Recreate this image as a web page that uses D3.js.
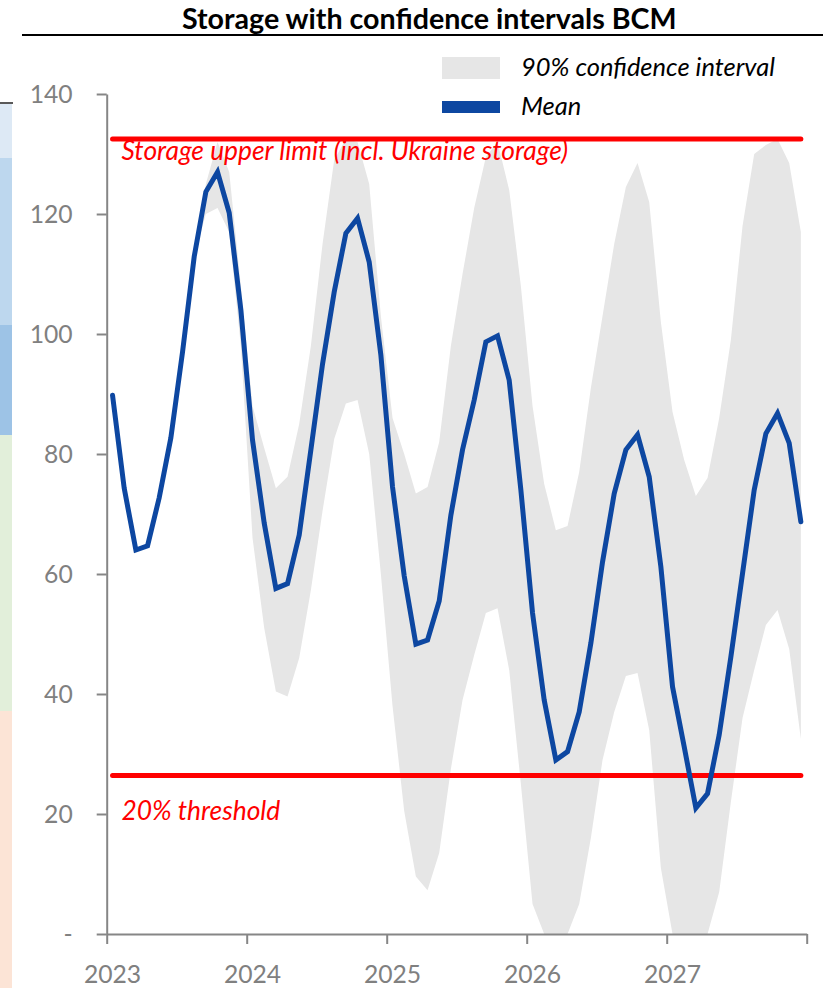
<!DOCTYPE html>
<html>
<head>
<meta charset="utf-8">
<script src="https://cdn.jsdelivr.net/npm/d3@7"></script>
<style>
  html, body { margin: 0; padding: 0; background: #fff; }
  svg { display: block; font-family: Lato, "Open Sans", sans-serif; }
</style>
</head>
<body>
<svg id="chart" width="823" height="988"></svg>
<script>
// ---------------- DATA ----------------
const titleText = "Storage with confidence intervals BCM";
const years = [2023, 2024, 2025, 2026, 2027];
const yTickValues = [0, 20, 40, 60, 80, 100, 120, 140];
const yTickLabels = ["-", "20", "40", "60", "80", "100", "120", "140"];

// monthly mean storage (BCM), Jan 2023 .. Dec 2027
const meanValues = [
  89.8, 74.3, 64, 64.7, 72.7, 82.7, 97, 112.9, 123.7, 127, 120.2, 104,
  82.3, 68.5, 57.6, 58.4, 66.5, 80.7, 95, 107, 116.8, 119.3, 112, 96.5,
  74.5, 59.7, 48.3, 49, 55.5, 69.8, 80.7, 89, 98.7, 99.7, 92.3, 74,
  53.5, 39, 29, 30.4, 37, 48.5, 62, 73.4, 80.7, 83.2, 76.2, 61.2,
  41.2, 31.2, 21, 23.4, 33.2, 46.2, 60.1, 74, 83.4, 86.8, 81.8, 68.7
];
// 90% confidence interval, upper bound
const upperValues = [
  89.8, 74.3, 64, 64.7, 72.7, 82.7, 97, 112.9, 125, 132, 127, 108,
  88, 81, 74.3, 76.2, 85, 98, 115, 129, 132.5, 132, 125, 103,
  86, 80, 73.4, 74.5, 82, 98, 110, 121, 129.5, 132, 124, 108,
  88, 75, 67.3, 68, 77, 91, 103, 115, 124.5, 128.5, 122, 102,
  87, 79, 73, 76, 86, 99, 118, 130, 131.5, 132.5, 128.5, 117
];
// 90% confidence interval, lower bound
const lowerValues = [
  89.8, 74.3, 64, 64.7, 72.7, 82.7, 97, 112.9, 120, 121, 117, 98,
  66, 51, 40.4, 39.6, 46, 57.3, 70.5, 82.5, 88.4, 89, 80, 60,
  38, 20.5, 9.6, 7.3, 13.5, 27.5, 39, 46.5, 53.5, 54.3, 44, 25,
  5, 0, 0, 0, 5, 16, 29, 37, 43, 43.5, 34, 11,
  0, 0, 0, 0, 7, 22, 36, 44, 51.5, 54, 47.5, 32.5
];
const upperLimitValue = 132.5;
const thresholdValue = 26.4;
const upperLimitLabel = "Storage upper limit (incl. Ukraine storage)";
const thresholdLabel = "20% threshold";
const legendLabels = ["90% confidence interval", "Mean"];

// ---------------- LAYOUT ----------------
const svg = d3.select("#chart");
const L = { left: 106.7, right: 806.7, top: 94, bottom: 934 };
const nMonths = meanValues.length;

const x = d3.scaleLinear().domain([0, nMonths]).range([L.left, L.right]);
const y = d3.scaleLinear().domain([0, 140]).range([L.bottom, L.top]);

const colors = {
  band: "#e6e6e6", mean: "#0d47a1", red: "#ff0000",
  axis: "#868686", tickText: "#808080"
};

function fit(sel, target) {
  const node = sel.node();
  const fs = parseFloat(sel.attr("font-size"));
  const w = node.getComputedTextLength();
  const nfs = fs * target / w;
  sel.attr("font-size", nfs);
  return nfs;
}

// decorative strips of neighbouring chart at left edge
const strips = [
  { y0: 104, y1: 158, c: "#dde9f5" },
  { y0: 158, y1: 325, c: "#bdd7ee" },
  { y0: 325, y1: 435, c: "#9dc3e6" },
  { y0: 435, y1: 711, c: "#e2efda" },
  { y0: 711, y1: 988, c: "#fce4d6" }
];
svg.selectAll("rect.strip").data(strips).enter().append("rect")
  .attr("x", 0).attr("width", 12)
  .attr("y", d => d.y0).attr("height", d => d.y1 - d.y0)
  .attr("fill", d => d.c);
svg.append("line").attr("x1", 0).attr("x2", 13).attr("y1", 103).attr("y2", 103)
  .attr("stroke", "#595959").attr("stroke-width", 2);

// title
const title = svg.append("text").attr("x", 182).attr("y", 29)
  .attr("font-weight", "bold").attr("font-size", 24).attr("fill", "#000")
  .text(titleText);
fit(title, 495);
svg.append("line").attr("x1", 22).attr("x2", 823).attr("y1", 35).attr("y2", 35)
  .attr("stroke", "#000").attr("stroke-width", 2);

// confidence band
const idx = d3.range(nMonths);
const area = d3.area()
  .x(i => x(i + 0.5))
  .y0(i => y(lowerValues[i]))
  .y1(i => y(upperValues[i]));
svg.append("path").datum(idx).attr("d", area).attr("fill", colors.band);

// red reference lines
const refLine = v => d3.line().x(i => x(i + 0.5)).y(() => y(v));
[upperLimitValue, thresholdValue].forEach(v => {
  svg.append("path").datum([0, nMonths - 1]).attr("d", refLine(v))
    .attr("fill", "none").attr("stroke", colors.red)
    .attr("stroke-width", 5).attr("stroke-linecap", "round");
});

// mean line
const line = d3.line().x(i => x(i + 0.5)).y(i => y(meanValues[i]));
svg.append("path").datum(idx).attr("d", line)
  .attr("fill", "none").attr("stroke", colors.mean)
  .attr("stroke-width", 5).attr("stroke-linejoin", "miter")
  .attr("stroke-linecap", "round");

// red labels
const ul = svg.append("text").attr("x", 121.5).attr("y", 160)
  .attr("font-style", "italic").attr("font-size", 22).attr("fill", colors.red)
  .text(upperLimitLabel);
const redFs = fit(ul, 447);
svg.append("text").attr("x", 121.5).attr("y", 820)
  .attr("font-style", "italic").attr("font-size", redFs).attr("fill", colors.red)
  .text(thresholdLabel);

// y axis
const yAxis = d3.axisLeft(y).tickValues(yTickValues)
  .tickFormat((d, i) => yTickLabels[i]).tickSize(10).tickSizeOuter(0).tickPadding(24);
const gy = svg.append("g").attr("transform", `translate(${L.left},0)`).call(yAxis);
gy.select(".domain").attr("stroke", colors.axis).attr("stroke-width", 2);
gy.selectAll(".tick line").attr("stroke", colors.axis).attr("stroke-width", 2);
gy.selectAll(".tick text").attr("fill", colors.tickText)
  .attr("font-family", "Lato, sans-serif").attr("font-size", 25).attr("dy", "0.36em");
const t140 = gy.selectAll(".tick text").filter(d => d === 140);
const yFs = fit(t140, 43);
gy.selectAll(".tick text").attr("font-size", yFs);

// x axis
const xAxis = d3.axisBottom(x).tickValues(d3.range(0, nMonths + 1, 12))
  .tickFormat("").tickSize(10).tickSizeOuter(0);
const gx = svg.append("g").attr("transform", `translate(0,${L.bottom})`).call(xAxis);
gx.select(".domain").attr("stroke", colors.axis).attr("stroke-width", 2);
gx.selectAll(".tick line").attr("stroke", colors.axis).attr("stroke-width", 2);
const xl = svg.append("g").selectAll("text").data(years).enter().append("text")
  .attr("x", (d, i) => x(i * 12 + 0.5)).attr("y", 983)
  .attr("text-anchor", "middle").attr("fill", colors.tickText)
  .attr("font-size", yFs).text(d => d);

// legend
svg.append("rect").attr("x", 442).attr("y", 57).attr("width", 58).attr("height", 22)
  .attr("fill", colors.band);
svg.append("rect").attr("x", 442).attr("y", 101).attr("width", 58).attr("height", 12)
  .attr("fill", colors.mean);
const lg1 = svg.append("text").attr("x", 521).attr("y", 76)
  .attr("font-style", "italic").attr("font-size", 22).attr("fill", "#000")
  .text(legendLabels[0]);
const lgFs = fit(lg1, 254);
svg.append("text").attr("x", 521).attr("y", 115)
  .attr("font-style", "italic").attr("font-size", lgFs).attr("fill", "#000")
  .text(legendLabels[1]);
</script>
</body>
</html>
